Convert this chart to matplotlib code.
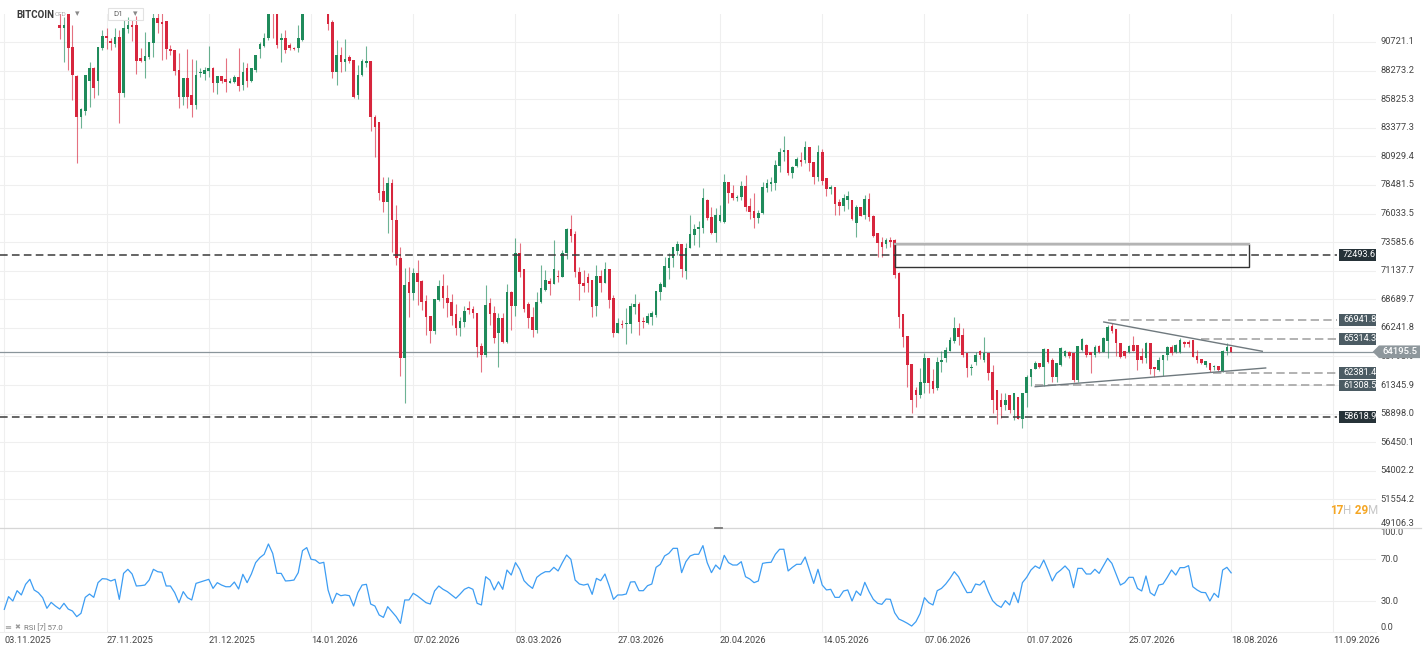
"""
BITCOIN CFD, D1: candles with RSI(7) panel below
"""

import matplotlib

matplotlib.use("Agg")
import matplotlib.pyplot as plt
import matplotlib.transforms as mtransforms
import numpy as np
import pandas as pd
from matplotlib.lines import Line2D
from matplotlib.patches import Polygon, Rectangle

plt.rcParams["font.family"] = ["Roboto", "DejaVu Sans"]

START = "2025-11-03"

OPEN = [
    107000, 101500, 103900, 101300, 103400, 102300, 104700, 105900, 103000, 101600,
    99700, 94500, 95600, 92180, 91890, 93300, 90320, 87840, 84330, 84840,
    87380, 88520, 87380, 90180, 91240, 90780, 90520, 91120, 86330, 91810,
    92180, 92180, 89320, 89090, 89470, 90660, 92750, 92460, 92550, 90090,
    90040, 88320, 86040, 87670, 86180, 85330, 88040, 87980, 88240, 88470,
    87180, 87810, 87530, 87240, 87330, 87750, 87040, 88470, 87380, 88320,
    90090, 90380, 91040, 93800, 93400, 90890, 91040, 90460, 90240, 90180,
    90890, 95300, 97000, 95600, 95500, 95100, 95300, 92460, 88180, 89610,
    89040, 89410, 89180, 86180, 87900, 88950, 89090, 84330, 83900, 77960,
    76990, 78620, 75480, 72200, 63640, 70200, 69200, 70910, 70290, 68550,
    67260, 66010, 68630, 69830, 68830, 68490, 67430, 66210, 66780, 67920,
    67860, 67550, 64690, 63920, 68350, 67490, 65830, 67060, 65060, 69350,
    68150, 72630, 71260, 68290, 67200, 66060, 68490, 69490, 70290, 70000,
    70690, 70630, 72680, 74710, 74280, 71060, 70120, 70630, 70340, 68150,
    70690, 70120, 71290, 68770, 65830, 66580, 66580, 66580, 68060, 68290,
    66860, 66690, 67200, 67350, 69350, 69770, 71400, 72200, 72860, 73430,
    71140, 73060, 74200, 74710, 74770, 77190, 75770, 74340, 75420, 75340,
    78710, 77820, 77340, 77420, 78390, 76680, 76280, 75680, 76050, 78190,
    78540, 78680, 80100, 81280, 81470, 79480, 80130, 80620, 80620, 81760,
    80480, 79130, 81330, 79050, 78110, 78280, 77050, 76680, 77190, 77190,
    75250, 76570, 75910, 77250, 75820, 74340, 73630, 73400, 73770, 73770,
    70920, 67400, 65580, 63150, 60930, 60500, 61500, 63640, 61700, 61070,
    63350, 63640, 64290, 65150, 66210, 65640, 64070, 62780, 63350, 64290,
    63490, 64120, 62500, 60930, 60070, 59640, 60500, 59210, 60350, 58410,
    60640, 62070, 62690, 63210, 62870, 64430, 63490, 62070, 63070, 63840,
    64210, 64060, 61780, 64350, 64780, 64210, 63920, 64690, 64210, 65150,
    66430, 66120, 64980, 64260, 64210, 64780, 64780, 63840, 63640, 64980,
    62870, 62640, 63490, 63920, 64640, 64210, 64210, 65060, 65060, 65210,
    63840, 63550, 63070, 63210, 62870, 62980, 62580, 64290, 64580,
]
HIGH = [
    107300, 104500, 104200, 104000, 103400, 105000, 106600, 107300, 105300, 104000,
    99800, 96800, 96600, 93300, 92890, 93600, 92180, 87900, 85040, 87900,
    89040, 88610, 90290, 91750, 91890, 91040, 91890, 91750, 92610, 92890,
    92610, 92950, 90180, 91610, 90750, 93300, 93300, 93300, 92550, 90460,
    90040, 89750, 87670, 90090, 89240, 89180, 88470, 88610, 90380, 88610,
    87810, 87810, 89320, 87610, 87900, 90180, 89040, 88950, 88470, 89610,
    90750, 91460, 94300, 94700, 93600, 91460, 91750, 90610, 90300, 92180,
    96000, 97900, 97200, 96000, 95600, 95500, 95500, 92600, 90890, 90320,
    90950, 89610, 89180, 88750, 89240, 90380, 89090, 84470, 83900, 79190,
    79190, 78960, 76770, 73140, 71340, 71490, 71340, 72060, 70340, 69060,
    67260, 68690, 70340, 70860, 69920, 69120, 68260, 67150, 68150, 68550,
    68120, 67550, 64920, 69920, 68770, 68150, 67490, 67490, 70000, 69430,
    73910, 73480, 71260, 68490, 68060, 69350, 71630, 71200, 70490, 73770,
    71200, 72910, 74770, 75910, 74570, 71490, 71200, 70910, 70340, 71630,
    71200, 71910, 71290, 69060, 67060, 66920, 67920, 68400, 69150, 68490,
    67200, 67550, 67690, 69430, 70200, 72340, 72630, 73200, 73680, 73430,
    73480, 75910, 75110, 75420, 78190, 77250, 76570, 76480, 76770, 79390,
    78760, 78480, 77620, 78820, 79330, 77340, 77760, 76340, 78760, 78960,
    79130, 80620, 81620, 82670, 81470, 80100, 80850, 81330, 82270, 81760,
    80480, 81900, 81560, 79050, 78480, 78280, 77250, 77710, 77960, 77190,
    76770, 76570, 77620, 77820, 75910, 74340, 74050, 73910, 74000, 73830,
    71000, 67400, 65580, 63150, 61210, 62780, 64120, 63640, 62700, 63780,
    64270, 64640, 65490, 67150, 66630, 66210, 64070, 63150, 64210, 64350,
    65490, 64120, 63070, 60930, 60700, 60700, 60500, 60640, 60350, 60640,
    62210, 62690, 63410, 63210, 64500, 64430, 63640, 63210, 64640, 64350,
    64290, 64120, 64690, 65350, 64860, 64210, 64780, 64780, 65490, 66450,
    66630, 66120, 64980, 64260, 64780, 65550, 64780, 64490, 65060, 64980,
    62870, 63720, 63920, 64690, 64780, 64860, 65350, 65120, 65210, 65210,
    64350, 63550, 63440, 63210, 63070, 62980, 64350, 64920, 64580,
]
LOW = [
    98900, 98000, 100300, 99300, 101400, 101000, 104300, 102500, 100600, 98000,
    94000, 94500, 93300, 90950, 89040, 88320, 85760, 80330, 83330, 84470,
    85180, 85960, 86180, 90040, 90090, 90040, 90320, 83760, 86040, 91460,
    90840, 87980, 89040, 87610, 89240, 89470, 91460, 89180, 89240, 89610,
    87900, 85040, 85330, 85040, 84330, 84960, 87750, 87470, 87750, 86470,
    86240, 87180, 86470, 87180, 87180, 86550, 86610, 86900, 87270, 88180,
    89320, 90320, 90890, 91100, 90200, 89040, 89750, 90040, 90040, 89890,
    90800, 95000, 94800, 94900, 94600, 94600, 91750, 87610, 87040, 88180,
    88270, 88890, 85900, 85810, 87810, 88610, 83130, 80900, 77190, 76190,
    74400, 72770, 71630, 62120, 59840, 67200, 68630, 68200, 67780, 65630,
    64920, 65690, 68570, 67920, 67200, 66490, 65630, 65550, 66350, 67430,
    67060, 63720, 62470, 63780, 66490, 64980, 62920, 64920, 64920, 66060,
    67290, 70570, 67630, 66210, 65490, 65780, 68350, 69430, 69060, 70000,
    70200, 70570, 72110, 73630, 70570, 68630, 69350, 69350, 67200, 67290,
    69350, 70060, 67980, 65430, 65780, 66210, 64860, 65830, 67430, 65630,
    66210, 66580, 66490, 67200, 68630, 69770, 70400, 71430, 72480, 70570,
    70400, 73060, 73340, 73200, 74400, 75480, 74280, 73630, 75340, 75250,
    76910, 77190, 77110, 77190, 76280, 75540, 74830, 75200, 76000, 77910,
    77990, 78050, 79620, 80560, 79330, 79050, 80050, 80100, 80330, 79710,
    78560, 78850, 78480, 77540, 77710, 75910, 75910, 76280, 76400, 75480,
    74050, 75820, 75540, 75420, 74000, 72340, 72280, 73060, 73140, 70490,
    66210, 64580, 61210, 58990, 59440, 60210, 60640, 60640, 60640, 60930,
    62500, 63350, 64290, 64920, 64780, 63780, 62070, 62210, 63070, 63550,
    63350, 61780, 58930, 58010, 58500, 59210, 58930, 58360, 58410, 57640,
    59440, 61270, 62690, 62780, 61300, 63210, 61600, 61640, 62980, 63720,
    63640, 61640, 61640, 64290, 63780, 62410, 63780, 64120, 64210, 63640,
    65830, 63840, 63640, 63640, 64120, 64290, 62640, 63210, 63210, 62300,
    62070, 62580, 62120, 63490, 63920, 64060, 64060, 64640, 64640, 63720,
    63210, 63150, 62870, 62500, 62640, 62580, 62500, 63920, 64150,
]
CLOSE = [
    101500, 103900, 101300, 103400, 102300, 104700, 105900, 103000, 101600, 99700,
    94500, 95600, 94200, 91890, 92180, 90180, 87900, 84330, 84980, 87900,
    88520, 86750, 90290, 91240, 91040, 90610, 91120, 86330, 91890, 92180,
    92030, 89090, 89090, 89520, 90750, 92750, 92380, 92230, 90090, 89980,
    88240, 86040, 87670, 86040, 85330, 87900, 88180, 88320, 88520, 87180,
    87810, 87380, 87330, 87380, 87700, 86980, 88180, 87380, 88470, 89610,
    90520, 91040, 93800, 93400, 90460, 91040, 90040, 90180, 90090, 91040,
    95300, 97000, 95600, 95500, 95100, 95300, 92260, 88180, 89610, 89040,
    89240, 89090, 86040, 87900, 89090, 89090, 84270, 83470, 77820, 76990,
    78620, 75480, 72200, 63640, 69920, 69200, 70910, 70200, 68490, 67200,
    66010, 68690, 69830, 68770, 68400, 67290, 66210, 66830, 67690, 67780,
    67490, 64580, 63920, 68200, 67430, 65410, 67060, 65060, 69350, 68150,
    72630, 71060, 67860, 67120, 66060, 68490, 69630, 70340, 70000, 71290,
    70570, 72680, 74710, 74140, 71060, 70000, 69830, 70060, 68060, 70690,
    70120, 71290, 68630, 65830, 66630, 66460, 66690, 68120, 68290, 66780,
    66720, 67260, 67550, 69430, 70000, 71540, 72200, 73200, 73430, 71260,
    73110, 74280, 74710, 74910, 77340, 75620, 74340, 75910, 75910, 78710,
    77760, 77390, 77480, 78390, 76570, 76200, 75680, 76110, 78280, 78620,
    78760, 80190, 81280, 81470, 79480, 80050, 80680, 80480, 81760, 80390,
    79190, 81330, 78820, 78110, 78280, 76820, 76680, 77340, 77540, 75540,
    76570, 75820, 77250, 75710, 74110, 73540, 73200, 73770, 73630, 70770,
    67200, 65490, 63070, 60070, 60500, 61640, 63640, 61550, 61010, 63350,
    63490, 64350, 65210, 66210, 65490, 63920, 62780, 62920, 63920, 63920,
    64120, 62410, 60070, 59210, 59500, 60070, 59210, 60640, 58410, 60640,
    62070, 62690, 63210, 62870, 64430, 63350, 62070, 63210, 64490, 64290,
    63840, 61780, 64690, 65260, 63920, 63920, 64640, 64210, 65350, 66350,
    66010, 64920, 63720, 63840, 64690, 64290, 63490, 63490, 64980, 62690,
    62690, 63490, 63920, 64640, 64060, 64780, 65210, 64860, 64840, 63720,
    63490, 63210, 63440, 62640, 62980, 62640, 64290, 64580, 64195.5,
]
RSI = [
    22.0, 34.2, 30.0, 39.9, 35.8, 46.0, 50.8, 40.6, 38.0, 33.2,
    23.0, 28.7, 25.2, 22.3, 27.8, 22.3, 20.4, 15.0, 18.2, 33.5,
    36.7, 33.5, 47.6, 51.4, 51.1, 49.2, 50.8, 31.6, 56.5, 60.4,
    55.9, 44.4, 44.7, 45.3, 50.1, 60.4, 58.1, 57.5, 44.4, 44.4,
    38.0, 28.4, 39.0, 33.2, 31.0, 46.9, 48.2, 49.5, 50.8, 42.1,
    47.6, 45.3, 43.7, 43.7, 48.2, 41.5, 55.6, 47.6, 55.9, 66.8,
    71.6, 74.8, 84.7, 75.7, 56.5, 56.5, 49.2, 49.5, 50.1, 57.2,
    78.3, 81.2, 70.0, 69.3, 66.1, 67.1, 40.6, 27.8, 37.4, 35.1,
    35.8, 35.1, 25.2, 38.0, 45.3, 46.0, 27.1, 25.2, 16.6, 14.3,
    24.6, 19.8, 15.0, 8.6, 31.0, 31.0, 37.4, 34.8, 31.6, 28.4,
    27.1, 39.6, 44.4, 41.2, 39.0, 35.8, 32.6, 36.7, 41.2, 43.1,
    41.2, 27.8, 26.2, 53.3, 50.1, 40.6, 48.5, 41.2, 59.7, 54.9,
    66.8, 60.4, 49.5, 45.3, 42.1, 52.7, 55.9, 58.1, 58.1, 62.3,
    58.8, 66.8, 74.1, 70.0, 50.1, 46.3, 45.3, 46.3, 36.4, 51.7,
    49.5, 55.9, 44.4, 31.6, 35.8, 35.8, 36.7, 48.2, 48.5, 39.9,
    39.9, 44.7, 46.3, 62.3, 65.2, 73.2, 75.7, 80.5, 80.5, 57.2,
    67.7, 73.2, 74.8, 74.8, 83.1, 66.8, 57.2, 64.5, 60.4, 73.8,
    66.8, 64.5, 64.5, 67.7, 53.3, 51.1, 47.6, 49.2, 66.1, 66.8,
    67.1, 74.8, 79.6, 79.6, 58.8, 62.3, 65.2, 65.2, 72.2, 59.7,
    46.9, 60.4, 45.3, 40.6, 41.2, 33.5, 33.5, 39.6, 40.6, 30.0,
    39.6, 35.4, 47.9, 39.0, 31.6, 27.8, 26.8, 31.9, 31.6, 18.8,
    12.7, 10.8, 8.6, 6.0, 10.2, 18.2, 33.2, 28.4, 26.2, 39.9,
    42.1, 46.3, 51.7, 58.1, 53.3, 45.3, 38.0, 38.3, 46.3, 45.3,
    49.5, 39.0, 30.3, 26.2, 23.9, 30.3, 26.2, 38.3, 28.4, 47.6,
    52.7, 59.7, 63.6, 61.3, 69.3, 59.7, 49.2, 56.5, 59.7, 63.6,
    59.1, 42.8, 61.3, 61.3, 55.9, 55.9, 60.4, 56.5, 63.6, 70.9,
    66.1, 55.6, 45.3, 47.6, 52.7, 52.7, 42.1, 39.6, 54.0, 38.0,
    35.1, 45.3, 46.3, 52.7, 59.7, 54.9, 62.0, 62.0, 63.9, 43.7,
    40.6, 38.3, 38.0, 30.0, 37.4, 33.5, 59.7, 62.3, 57.0,
]

PRICE_TICKS = [49106.3, 51554.2, 54002.2, 56450.1, 58898.0, 61345.9, 63793.9, 66241.8, 68689.7,
               71137.7, 73585.6, 76033.5, 78481.5, 80929.4, 83377.3, 85825.3, 88273.2, 90721.1]
PRICE_LABELS = ["49106.3", "51554.2", "54002.2", "56450.1", "58898.0", "61345.9", "63793.9", "66241.8",
                "68689.7", "71137.7", "73585.6", "76033.5", "78481.5", "80929.4", "83377.3", "85825.3",
                "88273.2", "90721.1"]
RSI_TICKS = [0, 30, 70, 100]
RSI_LABELS = ["0.0", "30.0", "70.0", "100.0"]
DATE_STEP = 24  # days between date labels

LAST_PRICE = 64195.5
BLACK_LEVELS = [72493.6, 58618.9]
BLACK_TEXT = ["72493.6", "58618.9"]
GRAY_LEVELS = [66941.8, 65314.3, 62381.4, 61308.5]
GRAY_TEXT = ["66941.8", "65314.3", "62381.4", "61308.5"]
GRAY_FROM = [259.1, 280.9, 283.7, 242.0]  # bar index where each grey line starts
LEVEL_END = 312.8
ZONE = (209.1, 292.3, 71482, 73451)  # x0, x1, y0, y1
TRI_UPPER = ([258.1, 295.3], [66747, 64239])
TRI_LOWER = ([242.0, 296.1], [61208, 62809])

UP, DOWN = "#1f8b5b", "#d7263d"
GRID = "#efefef"
TXT = "#444444"

W, H = 1428, 653
fig = plt.figure(figsize=(W / 100, H / 100), dpi=100)


def fx(px):
    return px / W


def fy(py):
    return 1 - py / H


XLIM = (-1.01, 322.0)
ax = fig.add_axes([0, fy(528), fx(1376), (528 - 14) / H])
ar = fig.add_axes([0, fy(632.3), fx(1376), (632.3 - 528) / H])

idx = np.arange(len(CLOSE))
dates = pd.date_range(START, periods=14, freq=f"{DATE_STEP}D")
tick_idx = np.arange(len(dates)) * DATE_STEP
tick_lbl = [d.strftime("%d.%m.%Y") for d in dates]

for a in (ax, ar):
    a.set_xlim(*XLIM)
    for s in a.spines.values():
        s.set_visible(False)
    a.set_axisbelow(True)
    a.set_xticks(tick_idx)
    a.grid(True, color=GRID, lw=0.8)
    a.tick_params(length=0, labelleft=False)

ax.set_ylim(49106.3, 93118.5)
ax.set_yticks(PRICE_TICKS)
ax.tick_params(labelbottom=False)
ar.set_ylim(0, 100)
ar.set_yticks([30, 70])
ar.set_xticks(tick_idx, tick_lbl, fontsize=6.7, color=TXT)
for t in ar.get_xticklabels():
    t.set_ha("left")
ar.tick_params(axis="x", pad=2.6)

# candles
o, h, l, c = (np.array(v, dtype=float) for v in (OPEN, HIGH, LOW, CLOSE))
cols = np.where(c >= o, UP, DOWN)
ax.vlines(idx, l, h, colors=cols, lw=0.8, alpha=0.65, zorder=2)
ax.bar(idx, np.maximum(np.abs(c - o), 45), bottom=np.minimum(o, c), width=0.62,
       color=cols, linewidth=0, zorder=3)

# levels
ax.hlines(BLACK_LEVELS, XLIM[0], LEVEL_END, colors="#3a3a3a", lw=1.1, linestyles=(0, (5, 2.8)), zorder=4)
ax.hlines(GRAY_LEVELS, GRAY_FROM, LEVEL_END, colors="#a5a5a5", lw=1.2, linestyles=(0, (5, 2.6)), zorder=4)
ax.axhline(LAST_PRICE, color="#8a959b", lw=0.9, zorder=1.5)

box_x = LEVEL_END + 0.5
for levels, texts, fc in ((BLACK_LEVELS, BLACK_TEXT, "#263238"), (GRAY_LEVELS, GRAY_TEXT, "#4b5b63")):
    for v, s in zip(levels, texts):
        r = Rectangle((box_x, v - 500), 12, 1000, fc=fc, ec="none", zorder=6)
        ax.add_patch(r)
        t = ax.text(box_x + 0.95, v, s, color="white", fontsize=6.6, va="center", zorder=7)
        t.set_clip_box(ax.bbox)

# zone and triangle
x0, x1, y0, y1 = ZONE
ax.add_patch(Rectangle((x0, y0), x1 - x0, y1 - y0, fill=False, ec="#333333", lw=1.0, zorder=5))
ax.plot([x0, x1], [y1, y1], color="#b4b4b4", lw=1.6, zorder=5)
ax.plot(*TRI_UPPER, color="#6f797e", lw=1.0, zorder=5)
ax.plot(*TRI_LOWER, color="#6f797e", lw=1.0, zorder=5)

# right-hand price scale
tr_main = mtransforms.blended_transform_factory(fig.transFigure, ax.transData)
for i, (v, s) in enumerate(zip(PRICE_TICKS, PRICE_LABELS)):
    ax.text(fx(1380.5), v, s, transform=tr_main, fontsize=6.7, color=TXT,
            va="bottom" if i == 0 else "center", clip_on=False)

half = 544
tip = Polygon([(fx(1372.7), LAST_PRICE), (fx(1379), LAST_PRICE + half), (fx(1420), LAST_PRICE + half),
               (fx(1420), LAST_PRICE - half), (fx(1379), LAST_PRICE - half)],
              closed=True, fc="#8e979c", ec="none", transform=tr_main, clip_on=False, zorder=8)
ax.add_patch(tip)
ax.text(fx(1382.5), LAST_PRICE, f"{LAST_PRICE:.1f}", transform=tr_main, color="white",
        fontsize=6.8, fontweight="medium", va="center", clip_on=False, zorder=9)

# RSI
ar.plot(idx, RSI, color="#3d9df3", lw=0.9)
tr_rsi = mtransforms.blended_transform_factory(fig.transFigure, ar.transData)
for v, s in zip(RSI_TICKS, RSI_LABELS):
    va = {0: "bottom", 100: "top"}.get(v, "center")
    ar.text(fx(1380.5), v, s, transform=tr_rsi, fontsize=6.7, color=TXT, va=va, clip_on=False)

fig.text(fx(4), fy(627.7), "≡", fontsize=6, color="#999999", va="center")
fig.text(fx(14), fy(627.7), "✖", fontsize=5, color="#999999", va="center")
fig.text(fx(24), fy(627.7), f"RSI [7] {RSI[-1]:.1f}", fontsize=5.6, color="#777777", va="center")

# panel separators
fig.add_artist(Line2D([0, fx(1421)], [fy(528), fy(528)], color="#d6d6d6", lw=0.9))
fig.add_artist(Line2D([0, fx(1376)], [fy(632.3), fy(632.3)], color="#eeeeee", lw=0.8))
fig.add_artist(Line2D([fx(715), fx(722)], [fy(527.6), fy(527.6)], color="#777777", lw=1.3))

# header
fig.text(fx(16), fy(14.5), "BITCOIN", fontsize=7, fontweight="bold", color="#3a3a3a", va="center")
fig.text(fx(55), fy(15), "CFD", fontsize=4.6, color="#aaaaaa", va="center")
fig.text(fx(75), fy(13.5), "▾", fontsize=6.5, color="#888888", va="center")
fig.add_artist(Rectangle((fx(108.3), fy(20)), fx(34.4), 11.7 / H, fill=False, ec="#e2e2e2", lw=0.8,
                         transform=fig.transFigure))
fig.text(fx(113), fy(14.5), "D1", fontsize=5.8, color="#666666", va="center")
fig.text(fx(133), fy(13.5), "▾", fontsize=6.5, color="#888888", va="center")

# candle countdown
renderer = fig.canvas.get_renderer()
xpos = fx(1330)
for s, col, wt in (("17", "#f5a623", "bold"), ("H", "#c6c6c6", "normal"),
                   (" 29", "#f5a623", "bold"), ("M", "#c6c6c6", "normal")):
    t = fig.text(xpos, fy(511), s, fontsize=8.4, color=col, fontweight=wt, va="center")
    xpos += t.get_window_extent(renderer).width / W

fig.savefig("out.png", dpi=100, facecolor="white")
